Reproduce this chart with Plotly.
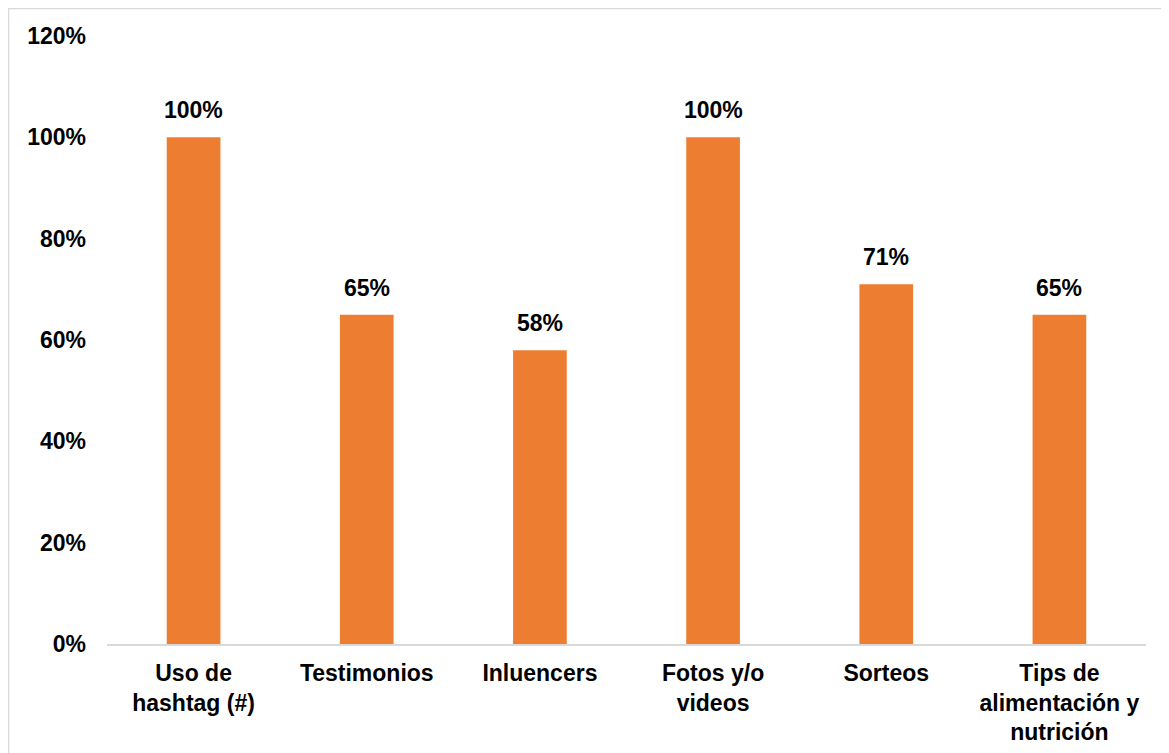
import plotly.graph_objects as go

categories = ["Uso de<br>hashtag (#)", "Testimonios", "Inluencers", "Fotos y/o<br>videos",
              "Sorteos", "Tips de<br>alimentación y<br>nutrición"]
values = [1.00, 0.65, 0.58, 1.00, 0.71, 0.65]
labels = ["100%", "65%", "58%", "100%", "71%", "65%"]

FONT = "Liberation Sans, Arial, sans-serif"
FS = 23

fig = go.Figure()
fig.add_trace(go.Bar(x=categories, y=values, marker=dict(color="#ED7D31", line=dict(width=0)),
                     hoverinfo="skip"))

for c, v, t in zip(categories, values, labels):
    fig.add_annotation(x=c, y=v, text="<b>%s</b>" % t, showarrow=False, yanchor="bottom",
                       yshift=12, font=dict(family=FONT, size=FS, color="black"))

fig.update_layout(
    width=1169, height=753,
    margin=dict(l=99, r=31, t=28, b=117),
    paper_bgcolor="white", plot_bgcolor="white",
    bargap=0.69, showlegend=False,
    font=dict(family=FONT, size=FS, color="black"),
)
fig.update_xaxes(showline=True, linecolor="#d9d9d9", linewidth=2, showgrid=False,
                 tickfont=dict(family=FONT, size=FS, color="black", weight="bold"),
                 ticklabelstandoff=7)
fig.update_yaxes(range=[0, 1.2], dtick=0.2, tickformat=".0%", showgrid=False, zeroline=False,
                 showline=False,
                 tickfont=dict(family=FONT, size=FS, color="black", weight="bold"),
                 ticklabelstandoff=20)

fig.add_shape(type="rect", xref="paper", yref="paper",
              x0=-0.0948, x1=1.2, y0=-0.4, y1=1.0452,
              line=dict(color="#d9d9d9", width=1.5), layer="below")

fig.write_html("out.html")
